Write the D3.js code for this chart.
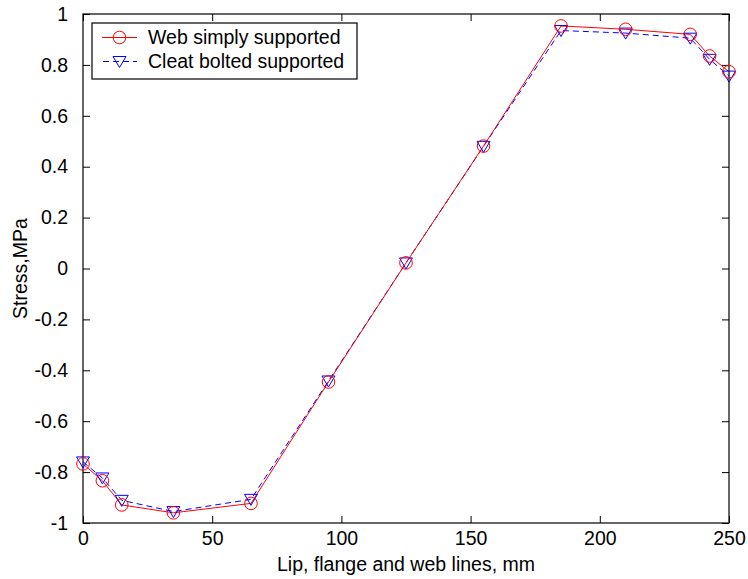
<!DOCTYPE html>
<html>
<head>
    <script src="https://d3js.org/d3.v7.min.js"></script>
    <style>
        body { margin: 0; background: #fff; }
        text { font-family: "Liberation Sans", Arial, sans-serif; }
    </style>
</head>
<body>

<script>
// positions along the section (mm)
const positions = [0, 7.5, 15, 35, 65, 95, 125, 155, 185, 210, 235, 242.5, 250];
// stress values
const webSimply = [-0.768, -0.834, -0.929, -0.96, -0.923, -0.446, 0.022, 0.481, 0.953, 0.94, 0.92, 0.835, 0.773];
const cleatBolted = [-0.76, -0.823, -0.911, -0.955, -0.907, -0.442, 0.022, 0.48, 0.935, 0.925, 0.905, 0.822, 0.756];
const xTicks = [0, 50, 100, 150, 200, 250];
const yTicks = [-1, -0.8, -0.6, -0.4, -0.2, 0, 0.2, 0.4, 0.6, 0.8, 1];
const seriesNames = ['Web simply supported', 'Cleat bolted supported'];

const width = 748, height = 579;
const margin = { top: 14, right: 19, bottom: 56, left: 83 };
const w = width - margin.left - margin.right;
const h = height - margin.top - margin.bottom;

const svg = d3.select('body')
    .append('svg')
    .attr('width', width)
    .attr('height', height);

const g = svg.append('g')
    .attr('transform', `translate(${margin.left},${margin.top})`);

const xScale = d3.scaleLinear().domain([0, 250]).range([0, w]);
const yScale = d3.scaleLinear().domain([-1, 1]).range([h, 0]);

const fmt = d => (d === 0 ? '0' : String(+d.toFixed(1)));
const fontSize = 19.5;

// axes with inward ticks
const xAxis = g.append('g')
    .attr('transform', `translate(0,${h})`)
    .call(d3.axisBottom(xScale).tickValues(xTicks).tickFormat(fmt).tickSizeInner(-7).tickSizeOuter(0).tickPadding(8));
const yAxis = g.append('g')
    .call(d3.axisLeft(yScale).tickValues(yTicks).tickFormat(fmt).tickSizeInner(-7).tickSizeOuter(0).tickPadding(15));
g.append('g')
    .call(d3.axisTop(xScale).tickValues(xTicks).tickFormat('').tickSizeInner(-7).tickSizeOuter(0));
g.append('g')
    .attr('transform', `translate(${w},0)`)
    .call(d3.axisRight(yScale).tickValues(yTicks).tickFormat('').tickSizeInner(-7).tickSizeOuter(0));

g.selectAll('.domain').remove();
g.selectAll('.tick line').attr('stroke', '#000');
g.selectAll('.tick text')
    .attr('fill', '#000')
    .style('font-size', fontSize + 'px');

g.append('rect')
    .attr('width', w)
    .attr('height', h)
    .attr('fill', 'none')
    .attr('stroke', '#000')
    .attr('stroke-width', 1.2);

// lines
const line = d3.line()
    .x((d, i) => xScale(positions[i]))
    .y(d => yScale(d));

g.append('path')
    .datum(cleatBolted)
    .attr('d', line)
    .attr('fill', 'none')
    .attr('stroke', '#0000ff')
    .attr('stroke-width', 1)
    .attr('stroke-dasharray', '6,4');

g.append('path')
    .datum(webSimply)
    .attr('d', line)
    .attr('fill', 'none')
    .attr('stroke', '#ff0000')
    .attr('stroke-width', 1);

// markers
const triPath = 'M-6.5,-5L6.5,-5L0,6Z';

g.selectAll('path.tri')
    .data(cleatBolted)
    .enter()
    .append('path')
    .attr('class', 'tri')
    .attr('d', triPath)
    .attr('transform', (d, i) => `translate(${xScale(positions[i])},${yScale(d)})`)
    .attr('fill', 'none')
    .attr('stroke', '#0000ff')
    .attr('stroke-width', 1);

g.selectAll('circle.pt')
    .data(webSimply)
    .enter()
    .append('circle')
    .attr('class', 'pt')
    .attr('cx', (d, i) => xScale(positions[i]))
    .attr('cy', d => yScale(d))
    .attr('r', 6.3)
    .attr('fill', 'none')
    .attr('stroke', '#ff0000')
    .attr('stroke-width', 1);

// axis labels
svg.append('text')
    .attr('x', margin.left + w / 2)
    .attr('y', 571)
    .attr('text-anchor', 'middle')
    .style('font-size', fontSize + 'px')
    .text('Lip, flange and web lines, mm');

svg.append('text')
    .attr('transform', `translate(27,${margin.top + h / 2}) rotate(-90)`)
    .attr('text-anchor', 'middle')
    .style('font-size', fontSize + 'px')
    .text('Stress,MPa');

// legend
const legend = svg.append('g').attr('transform', 'translate(92,23)');
legend.append('rect')
    .attr('width', 265)
    .attr('height', 56)
    .attr('fill', '#fff')
    .attr('stroke', '#000')
    .attr('stroke-width', 1.2);

const r1 = 14.5, r2 = 38.5;
legend.append('line')
    .attr('x1', 10).attr('x2', 45).attr('y1', r1).attr('y2', r1)
    .attr('stroke', '#ff0000');
legend.append('circle')
    .attr('cx', 27.5).attr('cy', r1).attr('r', 6.3)
    .attr('fill', 'none').attr('stroke', '#ff0000');
legend.append('line')
    .attr('x1', 10).attr('x2', 45).attr('y1', r2).attr('y2', r2)
    .attr('stroke', '#0000ff')
    .attr('stroke-dasharray', '6,4')
    .attr('stroke-dashoffset', -1);
legend.append('path')
    .attr('d', triPath)
    .attr('transform', `translate(27.5,${r2})`)
    .attr('fill', 'none').attr('stroke', '#0000ff');

legend.selectAll('text.leg')
    .data(seriesNames)
    .enter()
    .append('text')
    .attr('class', 'leg')
    .attr('x', 56)
    .attr('y', (d, i) => (i === 0 ? r1 : r2))
    .attr('dy', '0.35em')
    .style('font-size', fontSize + 'px')
    .text(d => d);
</script>

</body>
</html>
